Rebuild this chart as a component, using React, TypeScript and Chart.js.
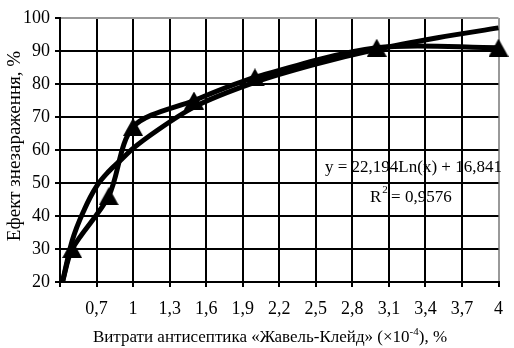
import React, { useEffect, useRef } from "react";
import { Chart, registerables } from "chart.js";

Chart.register(...registerables);

// Measured series (triangles) — first point is the line start without marker
const dataX = [0.42, 0.5, 0.8, 1, 1.5, 2, 3, 4];
const dataY = [20, 30, 46, 67, 75, 82, 91, 91];

// Logarithmic trend curve
const trendX = [0.42, 0.5, 0.6, 0.7, 0.8, 0.9, 1, 1.2, 1.5, 2, 2.5, 3, 3.5, 4];
const trendY = [20, 32.5, 42, 49, 53.5, 57, 60.5, 66, 73, 80.5, 86, 90.5, 94, 97];

const xTickValues = [0.4, 0.7, 1, 1.3, 1.6, 1.9, 2.2, 2.5, 2.8, 3.1, 3.4, 3.7, 4];
const xTickLabels = ["", "0,7", "1", "1,3", "1,6", "1,9", "2,2", "2,5", "2,8", "3,1", "3,4", "3,7", "4"];

const yTitle = "Ефект знезараження, %";
const xTitleMain = "Витрати антисептика «Жавель-Клейд» (×10";
const xTitleSup = "-4";
const xTitleEnd = "), %";
const equation = "y = 22,194Ln(x) + 16,841";
const r2Label = "R";
const r2Sup = "2";
const r2Value = " = 0,9576";

const FONT = "'Liberation Serif', 'Times New Roman', serif";

export default function App() {
  const canvasRef = useRef<HTMLCanvasElement | null>(null);

  useEffect(() => {
    const canvas = canvasRef.current;
    if (!canvas) return;

    // triangle marker centred on its bounding box
    const tri = document.createElement("canvas");
    tri.width = 20;
    tri.height = 18;
    const tctx = tri.getContext("2d")!;
    tctx.fillStyle = "#000";
    tctx.beginPath();
    tctx.moveTo(10, 0);
    tctx.lineTo(20, 18);
    tctx.lineTo(0, 18);
    tctx.closePath();
    tctx.fill();

    const textPlugin = {
      id: "texts",
      afterDraw(chart: any) {
        const ctx = chart.ctx;
        ctx.save();
        ctx.fillStyle = "#000";
        ctx.textBaseline = "alphabetic";
        ctx.textAlign = "left";
        const main = `17px ${FONT}`;
        const small = `11px ${FONT}`;

        // x title
        ctx.font = main;
        const w1 = ctx.measureText(xTitleMain).width;
        const w3 = ctx.measureText(xTitleEnd).width;
        ctx.font = small;
        const w2 = ctx.measureText(xTitleSup).width;
        const total = w1 + w2 + w3;
        let x = 270 - total / 2;
        const base = 342;
        ctx.font = main;
        ctx.fillText(xTitleMain, x, base);
        x += w1;
        ctx.font = small;
        ctx.fillText(xTitleSup, x, base - 7);
        x += w2;
        ctx.font = main;
        ctx.fillText(xTitleEnd, x, base);

        // y title
        ctx.save();
        ctx.translate(15, 146);
        ctx.rotate(-Math.PI / 2);
        ctx.textAlign = "center";
        ctx.textBaseline = "middle";
        ctx.font = `19px ${FONT}`;
        ctx.fillText(yTitle, 0, 0);
        ctx.restore();

        // equation
        ctx.font = main;
        ctx.fillText(equation, 325, 172);
        let rx = 370;
        ctx.fillText(r2Label, rx, 202);
        rx += ctx.measureText(r2Label).width;
        ctx.font = small;
        ctx.fillText(r2Sup, rx + 1, 193);
        rx += ctx.measureText(r2Sup).width;
        ctx.font = main;
        ctx.fillText(r2Value, rx, 202);
        ctx.restore();
      },
    };

    const chart = new Chart(canvas, {
      type: "scatter",
      data: {
        datasets: [
          {
            label: "trend",
            data: trendX.map((v, i) => ({ x: v, y: trendY[i] })),
            showLine: true,
            borderColor: "#000",
            borderWidth: 5,
            pointRadius: 0,
            cubicInterpolationMode: "monotone",
            clip: false as any,
          },
          {
            label: "data",
            data: dataX.map((v, i) => ({ x: v, y: dataY[i] })),
            showLine: true,
            borderColor: "#000",
            backgroundColor: "#000",
            borderWidth: 5,
            pointStyle: tri as any,
            pointRadius: (c: any) => (c.dataIndex === 0 ? 0 : 10),
            tension: 0.3,
            clip: false as any,
          },
        ],
      },
      options: {
        animation: false,
        responsive: false,
        layout: { padding: { left: 0, top: 18, right: 6, bottom: 0 } },
        plugins: { legend: { display: false }, tooltip: { enabled: false } },
        scales: {
          x: {
            type: "linear",
            min: 0.4,
            max: 4,
            afterBuildTicks: (scale: any) => {
              scale.ticks = xTickValues.map((v) => ({ value: v }));
            },
            afterFit: (scale: any) => {
              scale.height = 66;
            },
            ticks: {
              callback: (_v: any, i: number) => xTickLabels[i],
              font: { family: FONT, size: 18 },
              color: "#000",
              padding: 11,
              maxRotation: 0,
              autoSkip: false,
            },
            grid: {
              color: (c: any) => (c.tick && c.tick.value === 4 ? "#999" : "#000"),
              lineWidth: 2,
              tickLength: 5,
              tickColor: "#000",
              tickWidth: 2,
            },
            border: { color: "#000", width: 2 },
          },
          y: {
            min: 20,
            max: 100,
            afterFit: (scale: any) => {
              scale.width = 60;
            },
            ticks: {
              stepSize: 10,
              font: { family: FONT, size: 18 },
              color: "#000",
              padding: 5,
            },
            grid: {
              color: (c: any) => (c.tick && c.tick.value === 100 ? "#999" : "#000"),
              lineWidth: 2,
              tickLength: 5,
              tickColor: "#000",
              tickWidth: 2,
            },
            border: { color: "#000", width: 2 },
          },
        },
      },
      plugins: [textPlugin],
    } as any);

    return () => chart.destroy();
  }, []);

  return (
    <div style={{ position: "fixed", left: 0, top: 0, width: 514, height: 348, background: "#fff" }}>
      <canvas ref={canvasRef} width={514} height={348} style={{ width: 514, height: 348 }} />
    </div>
  );
}
